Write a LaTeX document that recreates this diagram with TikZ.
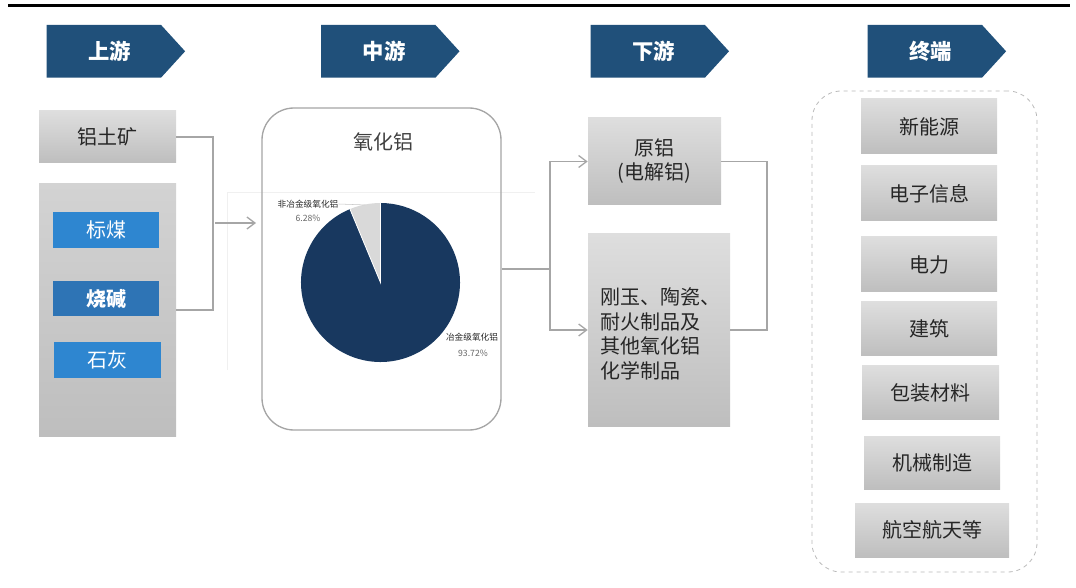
\documentclass[tikz,border=0pt]{standalone}
\usepackage{fontspec}
\setmainfont{Noto Sans CJK SC}
\usetikzlibrary{arrows.meta,fit}
\definecolor{hdr}{RGB}{32,80,122}
\definecolor{navy}{RGB}{24,56,95}
\definecolor{slicegray}{RGB}{217,217,217}
\definecolor{bluelight}{RGB}{46,134,208}
\definecolor{bluedark}{RGB}{46,116,181}
\definecolor{conngray}{RGB}{166,166,166}
\definecolor{txt}{RGB}{38,38,38}
\definecolor{boxtop}{RGB}{222,222,222}
\definecolor{boxbot}{RGB}{190,190,190}
\begin{document}
\begin{tikzpicture}[x=0.75pt,y=-0.75pt,
  gbox/.style={top color=boxtop,bottom color=boxbot,draw=none,inner sep=0pt},
  bbox/.style={fill=bluelight,draw=none,inner sep=0pt},
  gtext/.style={text=txt,font=\fontsize{15}{18}\selectfont,inner sep=0pt},
  wtext/.style={text=white,font=\fontsize{15}{18}\selectfont,inner sep=0pt},
  hdrtext/.style={text=white,font=\fontsize{16}{18}\selectfont\bfseries},
  conn/.style={draw=conngray,line width=1pt},
  arr/.style={-{Straight Barb[length=6pt,width=9pt]}},
  tinylbl/.style={font=\fontsize{6.5}{7}\selectfont,text=txt,inner sep=0pt}]
\useasboundingbox (0,0) rectangle (1076,588);
\draw[line width=2.3pt] (8,5.5) -- (1070,5.5);
% headers
\foreach \x/\t/\n in {46.6/上游/h1,321/中游/h2,590.5/下游/h3,867.6/终端/h4}{
  \fill[hdr] (\x,25) -- (\x+114.5,25) -- (\x+138.5,51.3) -- (\x+114.5,77.6) -- (\x,77.6) -- cycle;
  \node[hdrtext] (\n) at (\x+63,51.5) {\t};
}
% upstream
\node[gbox,fit={(39,111)(176,163)}] (ore) {};
\node[gtext] (oret) at (ore.center) {铝土矿};
\node[top color=boxtop!95!black,bottom color=boxbot,draw=none,inner sep=0pt,fit={(39,184)(176,436)}] (raw) {};
\node[bbox,fit={(53,212)(159,248)}] (coal) {};
\node[wtext] (coalt) at (coal.center) {标煤};
\node[bbox,fill=bluedark,fit={(53,281)(159,316)}] (soda) {};
\node[wtext,font=\fontsize{15}{18}\selectfont\bfseries] (sodat) at (soda.center) {烧碱};
\node[bbox,fit={(54,342)(161,378)}] (lime) {};
\node[wtext] (limet) at (lime.center) {石灰};
% faint chart area
\draw[gray!12,line width=0.6pt] (227,370) -- (227,192) -- (535,192);
% midstream
\node[draw={rgb,255:red,165;green,165;blue,165},line width=1pt,rounded corners=24pt,inner sep=0pt,fit={(262,108)(501,430)}] (pie) {};
\node[text={rgb,255:red,64;green,64;blue,64},font=\fontsize{15}{18}\selectfont] (ptitle) at (383,142) {氧化铝};
\begin{scope}[shift={(380.5,282.5)},x=0.75pt,y=0.75pt]
  \fill[navy] (0,0) -- (112.6:79.5) arc[start angle=112.6,end angle=450,radius=79.5] -- cycle;
  \fill[slicegray] (0,0) -- (90:79.5) arc[start angle=90,end angle=112.6,radius=79.5] -- cycle;
  \draw[white,line width=0.6pt] (90:79.5) -- (0,0) -- (112.6:79.5);
  \coordinate (sliceout) at (101:79);
\end{scope}
\node[tinylbl] (l1a) at (308,204) {非冶金级氧化铝};
\node[tinylbl,text=gray!80!black] (l1b) at (308,218) {6.28\%};
\draw[gray!45,line width=0.4pt] (l1a.east) -- (sliceout);
\node[tinylbl] (l2a) at (472,337) {冶金级氧化铝};
\node[tinylbl,text=gray!80!black] (l2b) at (473,353) {93.72\%};
% downstream
\node[gbox,fit={(588,118)(721,205)}] (prim) {};
\node[gtext,align=center] (primt) at (prim.center) {原铝\\(电解铝)};
\node[gbox,fit={(588,234)(730,426)}] (cor) {};
\node[gtext,align=left,anchor=west,font=\fontsize{15}{18.5}\selectfont] (cort) at ([xshift=9pt,yshift=-3pt]cor.west) {刚玉、陶瓷、\\耐火制品及\\其他氧化铝\\化学制品};
% terminal
\node[draw=gray!55,dashed,line width=0.6pt,rounded corners=22pt,inner sep=0pt,fit={(812,91)(1037,572)}] (term) {};
\node[gbox,fit={(861,99)(997,154)}] (t1) {};
\node[gbox,fit={(861,166)(997,221)}] (t2) {};
\node[gbox,fit={(861,237)(997,292)}] (t3) {};
\node[gbox,fit={(861,302)(997,356)}] (t4) {};
\node[gbox,fit={(862,366)(999,419)}] (t5) {};
\node[gbox,fit={(864,436)(1000,489)}] (t6) {};
\node[gbox,fit={(855,503)(1009,557)}] (t7) {};
\foreach \n/\t in {t1/新能源,t2/电子信息,t3/电力,t4/建筑,t5/包装材料,t6/机械制造,t7/航空航天等}{
  \node[gtext] (\n t) at (\n.center) {\t};
}
% connectors
\coordinate (jL) at (213,223);
\draw[conn] (ore.east) -| (jL) |- (raw.east);
\draw[conn,arr] ([xshift=1.5pt]jL) -- ([xshift=-4pt]pie.west |- jL);
\coordinate (jM) at (550,269);
\draw[conn] (pie.east |- jM) -- (jM);
\draw[conn,arr] (jM) |- (prim.west);
\draw[conn,arr] (jM) |- (cor.west);
\coordinate (jR) at (767,250);
\draw[conn] (prim.east) -| (jR) |- (cor.east);
\end{tikzpicture}
\end{document}
